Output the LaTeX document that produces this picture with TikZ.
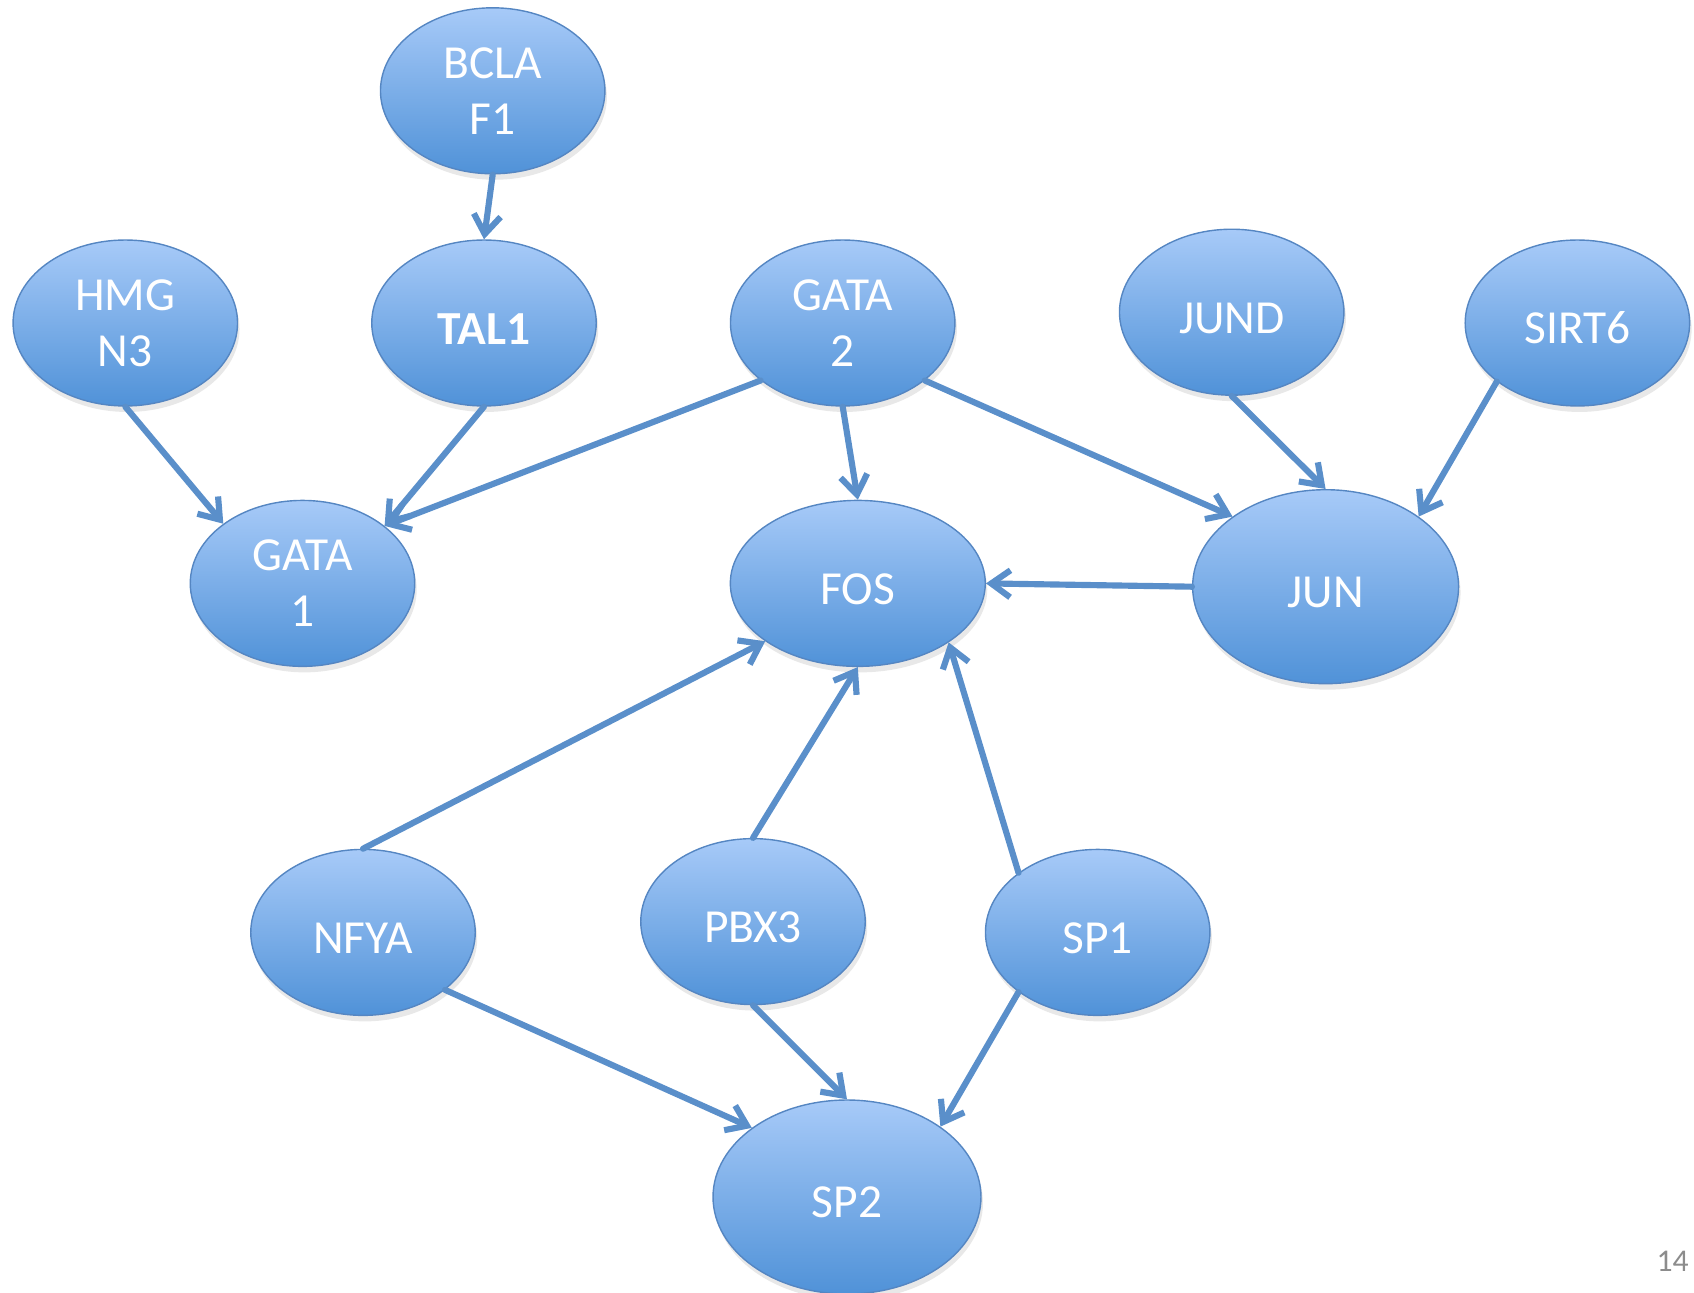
\documentclass[tikz,border=0pt]{standalone}
\usepackage{fontspec}
\setmainfont{Carlito}
\usepackage{xcolor}
\usepackage{tikz}
\usetikzlibrary{arrows.meta,shapes.geometric,shadows}
\definecolor{gtop}{HTML}{A7CAF8}
\definecolor{gbot}{HTML}{5092D8}
\definecolor{gline}{HTML}{5586C2}
\definecolor{arrowc}{HTML}{5A8FCA}
\definecolor{pagenum}{HTML}{8C8C8C}
\tikzset{
  gene/.style={ellipse, draw=gline, line width=0.8pt, top color=gtop, bottom color=gbot,
               text=white, align=center, inner sep=0pt,
               minimum width=4.49cm, minimum height=3.32cm,
               font=\fontsize{27}{32}\selectfont,
               execute at begin node={\rule{0pt}{24pt}},
               drop shadow={opacity=0.18, shadow xshift=0.4mm, shadow yshift=-1.2mm}},
  big/.style={minimum width=#1, minimum height=3.88cm},
  link/.style={-{Straight Barb[length=3.8mm, width=5.4mm]}, line width=3.5pt,
               draw=arrowc, line cap=round}
}
\begin{document}
\begin{tikzpicture}[x=0.02cm, y=-0.02cm]
  \useasboundingbox (0,0) rectangle (1694,1293);
  \node[gene] (bclaf) at (492.7,90.8) {BCLA\\F1};
  \node[gene] (hmgn) at (125.3,323) {HMG\\N3};
  \node[gene] (tal) at (484,323) {\textbf{TAL1}};
  \node[gene] (gata2) at (842.7,323) {GATA\\2};
  \node[gene] (jund) at (1231.7,312.2) {JUND};
  \node[gene] (sirt) at (1577.4,323) {SIRT6};
  \node[gene] (gata1) at (302.5,583.4) {GATA\\1};
  \node[gene, minimum width=5.1cm] (fos) at (857.8,583.4) {FOS};
  \node[gene, big=5.32cm] (jun) at (1325.6,586.7) {JUN};
  \node[gene] (nfya) at (363,932.4) {NFYA};
  \node[gene] (pbx) at (753,921.6) {PBX3};
  \node[gene] (sp1) at (1097.7,932.4) {SP1};
  \node[gene, big=5.36cm] (sp2) at (847,1197) {SP2};
  \node[anchor=east, inner sep=0pt, text=pagenum, font=\fontsize{18}{20}\selectfont] (page) at (1689,1261) {14};

  \draw[link] (bclaf.south) -- (tal.north);
  \draw[link] (hmgn.south) -- (gata1.143);
  \draw[link] (tal.south) -- (gata1.35);
  \draw[link] (gata2.215) -- (gata1.35);
  \draw[link] (gata2.south) -- (fos.north);
  \draw[link] (gata2.-35) -- (jun.143);
  \draw[link] (jund.south) -- (jun.north);
  \draw[link] (sirt.216) -- (jun.37);
  \draw[link] (jun.west) -- (fos.east);
  \draw[link] (nfya.north) -- (fos.212);
  \draw[link] (pbx.north) -- (fos.south);
  \draw[link] (sp1.143) -- (fos.-33);
  \draw[link] (nfya.-35) -- (sp2.144);
  \draw[link] (pbx.south) -- (sp2.north);
  \draw[link] (sp1.217) -- (sp2.37);
\end{tikzpicture}
\end{document}
